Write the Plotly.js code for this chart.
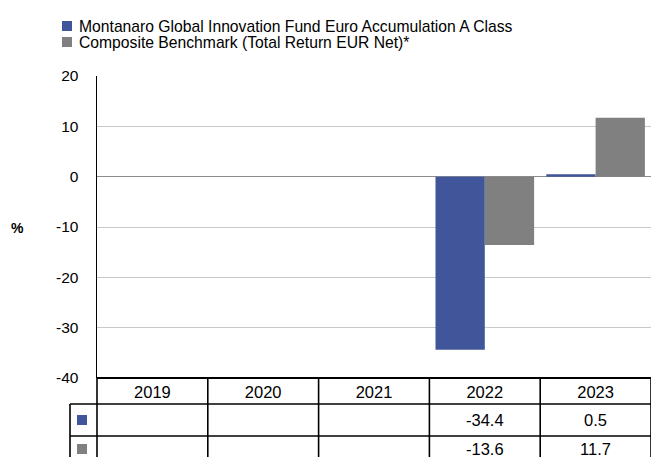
<!DOCTYPE html>
<html>
<head>
<meta charset="utf-8">
<script src="https://cdn.plot.ly/plotly-3.0.1.min.js"></script>
<style>html,body{margin:0;padding:0;background:#fff;}#chart{width:651px;height:457px;}</style>
</head>
<body>
<div id="chart"></div>
<script>
const years = ['2019', '2020', '2021', '2022', '2023'];
const fundName = 'Montanaro Global Innovation Fund Euro Accumulation A Class';
const benchName = 'Composite Benchmark (Total Return EUR Net)*';
const fundValues = [null, null, null, -34.4, 0.5];
const benchValues = [null, null, null, -13.6, 11.7];
const yTickVals = [-40, -30, -20, -10, 0, 10, 20];
const yTickText = ['-40', '-30', '-20', '-10', '0', '10', '20'];
const fundColor = '#41569a';
const benchColor = '#808080';

const FONT = 'Liberation Sans, Arial, sans-serif';
const W = 651, H = 457;
const M = {l: 97, r: 0, t: 76, b: 79};
const plotW = W - M.l - M.r, plotH = H - M.t - M.b;
const py2paper = py => (H - M.b - py) / plotH;   // pixel y -> paper y
const px2paper = px => (px - M.l) / plotW;       // pixel x -> paper x

const series = [
  {name: fundName, values: fundValues, color: fundColor},
  {name: benchName, values: benchValues, color: benchColor}
];

const traces = series.map(s => ({
  type: 'bar', name: s.name, x: years, y: s.values,
  marker: {color: s.color}, hoverinfo: 'x+y', showlegend: false
}));

const n = years.length;
const shapes = [];
const annotations = [];
const line = {color: '#000', width: 1.6};

// legend (drawn as keys + text)
const legendKeyL = px2paper(62), legendKeyR = px2paper(72), legendTextX = px2paper(77);
const legendRowsPx = [26, 42];
series.forEach((s, r) => {
  const yc = legendRowsPx[r];
  shapes.push({type: 'rect', xref: 'paper', yref: 'paper', x0: legendKeyL, x1: legendKeyR,
    y0: py2paper(yc + 5), y1: py2paper(yc - 5), fillcolor: s.color, line: {width: 0}});
  annotations.push({xref: 'paper', yref: 'paper', x: legendTextX, y: py2paper(yc), text: s.name,
    showarrow: false, xanchor: 'left', yanchor: 'middle', font: {family: FONT, size: 15.7, color: '#000'}});
});

// table geometry
const rowLines = [py2paper(404), py2paper(436)];
const tableBottom = py2paper(457);
const rowCenters = [py2paper(420), py2paper(449)];
const tableLeft = px2paper(70);
// bottom axis line / header top
shapes.push({type: 'line', xref: 'paper', yref: 'paper', x0: 0, x1: 1, y0: 0, y1: 0, line: {color: '#000', width: 2}});
// vertical column lines
for (let i = 0; i <= n; i++) {
  const xp = i / n;
  shapes.push({type: 'line', xref: 'paper', yref: 'paper', x0: xp, x1: xp, y0: 0, y1: tableBottom, line});
}
// left legend column
shapes.push({type: 'line', xref: 'paper', yref: 'paper', x0: tableLeft, x1: tableLeft, y0: rowLines[0], y1: tableBottom, line});
// horizontal row lines
rowLines.forEach(y => shapes.push({type: 'line', xref: 'paper', yref: 'paper', x0: tableLeft, x1: 1, y0: y, y1: y, line}));
// legend keys in table
const keyHalfX = 5 / plotW, keyHalfY = 5 / plotH, keyX = px2paper(82);
series.forEach((s, r) => {
  shapes.push({type: 'rect', xref: 'paper', yref: 'paper',
    x0: keyX - keyHalfX, x1: keyX + keyHalfX, y0: rowCenters[r] - keyHalfY, y1: rowCenters[r] + keyHalfY,
    fillcolor: s.color, line: {width: 0}});
});

// table values
series.forEach((s, r) => {
  s.values.forEach((v, i) => {
    if (v === null) return;
    annotations.push({xref: 'paper', yref: 'paper', x: (i + 0.5) / n, y: rowCenters[r], text: v.toFixed(1),
      showarrow: false, xanchor: 'center', yanchor: 'middle', font: {family: FONT, size: 16.5, color: '#000'}});
  });
});
annotations.push({xref: 'paper', yref: 'paper', x: px2paper(17), y: py2paper(228), text: '<b>%</b>', showarrow: false,
  xanchor: 'center', yanchor: 'middle', font: {family: FONT, size: 14, color: '#000'}});

const layout = {
  width: W, height: H, margin: M,
  paper_bgcolor: '#fff', plot_bgcolor: '#fff',
  font: {family: FONT, size: 15, color: '#000'},
  barmode: 'group', bargap: 0.11, bargroupgap: 0,
  showlegend: false,
  xaxis: {type: 'category', categoryarray: years, categoryorder: 'array', range: [-0.5, n - 0.5],
    showgrid: false, zeroline: false, showline: false, ticks: '', tickfont: {size: 16.5},
    ticklabelstandoff: 2, fixedrange: true},
  yaxis: {range: [-40, 20], tickmode: 'array', tickvals: yTickVals, ticktext: yTickText,
    showgrid: true, gridcolor: '#c8c8c8', gridwidth: 1,
    zeroline: true, zerolinecolor: '#8c8c8c', zerolinewidth: 1.5,
    showline: true, linecolor: '#000', linewidth: 1.5, ticks: '', ticklabelstandoff: 14,
    tickfont: {size: 15.5}, fixedrange: true},
  shapes, annotations
};

Plotly.newPlot('chart', traces, layout, {displayModeBar: false, staticPlot: true});
</script>
</body>
</html>
